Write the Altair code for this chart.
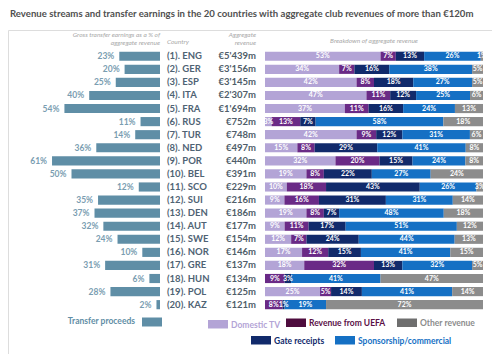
import altair as alt
import pandas as pd

# ---------------- data ----------------
countries = ["ENG", "GER", "ESP", "ITA", "FRA", "RUS", "TUR", "NED", "POR", "BEL",
             "SCO", "SUI", "DEN", "AUT", "SWE", "NOR", "GRE", "HUN", "POL", "KAZ"]
revenue_labels = ["€5'439m", "€3'156m", "€3'145m", "€2'307m", "€1'694m", "€752m", "€748m",
                  "€497m", "€440m", "€391m", "€229m", "€216m", "€186m", "€177m", "€154m",
                  "€146m", "€137m", "€134m", "€125m", "€121m"]
transfer_pct = [23, 20, 25, 40, 54, 11, 14, 36, 61, 50, 12, 35, 37, 32, 24, 10, 31, 6, 28, 2]

stream_names = ["Domestic TV", "Revenue from UEFA", "Gate receipts",
                "Sponsorship/commercial", "Other revenue"]
domestic_tv = [53, 34, 42, 47, 37, 3, 42, 15, 32, 19, 10, 9, 19, 9, 12, 17, 18, 0, 25, 0]
uefa = [7, 7, 8, 11, 11, 13, 9, 8, 20, 8, 18, 16, 8, 11, 7, 12, 32, 9, 5, 8]
gate = [13, 16, 18, 12, 16, 7, 12, 29, 15, 22, 43, 31, 7, 17, 24, 15, 13, 3, 14, 1]
sponsorship = [26, 38, 27, 25, 24, 58, 31, 41, 24, 27, 26, 31, 48, 51, 44, 41, 32, 41, 41, 19]
other = [1, 5, 5, 6, 13, 18, 6, 8, 8, 24, 3, 14, 18, 12, 13, 15, 5, 47, 14, 72]

# ---------------- styles ----------------
FONT = "Lato"
stream_colors = ["#b3a4d6", "#6a2a86", "#112a6b", "#1570c4", "#8c8c8c"]
legend_text_colors = ["#b3a4d6", "#5a1046", "#112a6b", "#1570c4", "#8c8c8c"]
legend_box_colors = ["#b3a4d6", "#4e0c3e", "#112a6b", "#1570c4", "#6e6e6e"]
transfer_color = "#5f8ea6"
header_color = "#a8a8a8"

labels = [f"({i + 1}). {c}" for i, c in enumerate(countries)]

rows = pd.DataFrame({"label": labels, "revenue": revenue_labels, "transfer": transfer_pct})
rows["transfer_text"] = rows["transfer"].astype(str) + "%"

series = [domestic_tv, uefa, gate, sponsorship, other]
recs = []
for i, lab in enumerate(labels):
    for k, name in enumerate(stream_names):
        v = series[k][i]
        recs.append({"label": lab, "stream": name, "order": k, "value": v, "vtext": f"{v}%"})
seg = pd.DataFrame(recs)

# ---------------- scales ----------------
Y_RANGE = [19.7, 281.2]
y_enc = alt.Y("label:N", scale=alt.Scale(domain=labels, range=Y_RANGE,
                                         paddingInner=0.3, paddingOuter=0.15), axis=None)
left_scale = alt.Scale(domain=[0, 60], range=[152, 45.8], nice=False, zero=True)
right_scale = alt.Scale(domain=[0, 1], range=[257, 475], nice=False, zero=False)
color_scale = alt.Scale(domain=stream_names, range=stream_colors)

base_rows = alt.Chart(rows)

transfer_bars = base_rows.mark_bar(color=transfer_color).encode(
    x=alt.X("transfer:Q", scale=left_scale, axis=None), y=y_enc)
transfer_text = base_rows.mark_text(align="right", baseline="middle", dx=-5, font=FONT,
                                    fontSize=8.5, fontWeight="bold", color="#7a9db1").encode(
    x=alt.X("transfer:Q", scale=left_scale, axis=None), y=y_enc, text="transfer_text:N")
country_text = base_rows.mark_text(align="left", baseline="middle", font=FONT, fontSize=9.5,
                                   fontWeight="bold", color="#4f6374").encode(
    x=alt.value(159), y=y_enc, text="label:N")
revenue_text = base_rows.mark_text(align="right", baseline="middle", font=FONT, fontSize=9.5,
                                   fontWeight="bold", color="#4f5d69").encode(
    x=alt.value(248), y=y_enc, text="revenue:N")

stacked = alt.Chart(seg).transform_stack(
    stack="value", groupby=["label"], as_=["x0", "x1"],
    sort=[alt.SortField("order", order="ascending")], offset="normalize"
).transform_calculate(mid="(datum.x0 + datum.x1) / 2")

seg_bars = stacked.mark_bar().encode(
    x=alt.X("x0:Q", scale=right_scale, axis=None), x2="x1:Q", y=y_enc,
    color=alt.Color("stream:N", scale=color_scale, legend=None))
seg_text = stacked.transform_filter("datum.value > 0").mark_text(
    align="center", baseline="middle", font=FONT, fontSize=7, fontWeight="bold",
    color="white").encode(
    x=alt.X("mid:Q", scale=right_scale, axis=None), y=y_enc, text="vtext:N")

one = alt.Data(values=[{}])


def label(text, x, y, align="left", size=6.5, color=header_color, weight="normal", style="italic"):
    return alt.Chart(one).mark_text(text=text, align=align, baseline="middle", font=FONT,
                                    fontSize=size, color=color, fontWeight=weight,
                                    fontStyle=style).encode(x=alt.value(x), y=alt.value(y))


def box(x, y, w, h, color):
    return alt.Chart(one).mark_rect(color=color).encode(
        x=alt.value(x), x2=alt.value(x + w), y=alt.value(y), y2=alt.value(y + h))


headers = [
    label("Gross transfer earnings as a % of", 152, 5, align="right"),
    label("aggregate revenue", 152, 13, align="right"),
    label("Country", 159, 12),
    label("Aggregate", 248, 5, align="right"),
    label("revenue", 248, 13, align="right"),
    label("Breakdown of aggregate revenue", 366, 11, align="center"),
]

# legend layout (swatch position per item)
legend_layout = [(200, 290), (278, 288.5), (243, 306), (327, 306), (389, 288.5)]
legend = [
    label("Transfer proceeds", 127, 291, align="right", size=8.5, color=transfer_color,
          weight="bold", style="normal"),
    box(134, 287.5, 20, 9, transfer_color),
]
for k, name in enumerate(stream_names):
    lx, ly = legend_layout[k]
    legend.append(box(lx, ly, 20, 8.5, legend_box_colors[k]))
    legend.append(label(name, lx + 23, ly + 4.5, size=8.5, color=legend_text_colors[k],
                        weight="bold", style="normal"))

chart = alt.layer(
    transfer_bars, transfer_text, country_text, revenue_text, seg_bars, seg_text,
    *headers, *legend
).resolve_scale(x="independent").properties(
    width=484, height=324,
    autosize=alt.AutoSizeParams(type="none"),
    padding={"left": 0, "top": 22, "right": 0, "bottom": 0},
    title=alt.Title(
        "Revenue streams and transfer earnings in the 20 countries with aggregate club revenues of more than €120m",
        anchor="start", offset=11, dx=2, fontSize=9.6, font=FONT, fontWeight="bold",
        color="#505050", frame="group"),
).configure_view(stroke=None).configure(background="white")

chart.save("out.html", embed_options={"renderer": "svg", "actions": False})
